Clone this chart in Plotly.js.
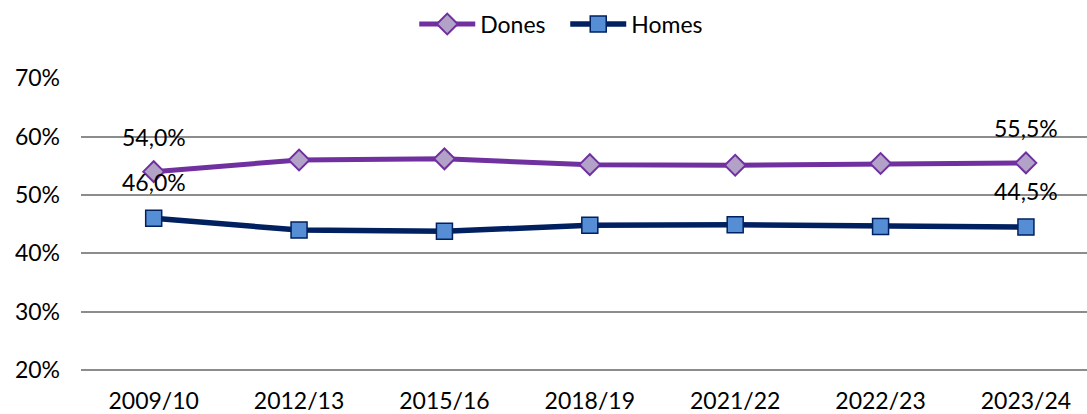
<!DOCTYPE html>
<html><head><meta charset="utf-8">
<script src="https://cdn.plot.ly/plotly-3.0.1.min.js"></script>
<style>body{margin:0}#c{width:1087px;height:414px}</style>
</head><body><div id="c"></div>
<script>
var categories = ["2009/10","2012/13","2015/16","2018/19","2021/22","2022/23","2023/24"];
var dones = [54.0, 56.0, 56.2, 55.2, 55.1, 55.4, 55.5];
var homes = [46.0, 44.0, 43.8, 44.8, 44.9, 44.6, 44.5];
var yTicks = [20,30,40,50,60,70];
var yTickText = ["20%","30%","40%","50%","60%","70%"];
var labelIdx = [0, 6];
function fmt(v){return v.toFixed(1).replace('.', ',') + '%';}

var FONT = "Lato, 'Open Sans', sans-serif";
var traces = [
 {x: categories, y: dones, name: "Dones", type: "scatter", mode: "lines+markers",
  line: {color: "#7030A0", width: 5},
  marker: {symbol: "diamond", size: 16, color: "#B3A2C7", line: {color: "#7030A0", width: 2}}},
 {x: categories, y: homes, name: "Homes", type: "scatter", mode: "lines+markers",
  line: {color: "#002060", width: 5.5},
  marker: {symbol: "square", size: 16, color: "#558ED5", line: {color: "#002060", width: 1.5}}}
];
var ann = [];
labelIdx.forEach(function(i){
  ann.push({x: categories[i], y: dones[i], text: fmt(dones[i]), showarrow: false, yshift: 35, font: {family: FONT, size: 23, color: "#000"}});
  ann.push({x: categories[i], y: homes[i], text: fmt(homes[i]), showarrow: false, yshift: 36, font: {family: FONT, size: 23, color: "#000"}});
});
var layout = {
  width: 1087, height: 414,
  margin: {l: 81, r: 0, t: 78, b: 41},
  paper_bgcolor: "#fff", plot_bgcolor: "#fff",
  font: {family: FONT, size: 23, color: "#000"},
  showlegend: true,
  legend: {orientation: "h", xref: "container", yref: "container", x: 0.52, xanchor: "center", y: 0.942, yanchor: "middle", font: {family: FONT, size: 23}, itemwidth: 56, entrywidth: 80, tracegroupgap: 0},
  xaxis: {type: "category", range: [-0.5, 6.42], showgrid: false, zeroline: false, showline: false, ticks: "", ticklabelstandoff: 12, tickfont: {family: FONT, size: 23}},
  yaxis: {range: [19.5, 70.05], tickvals: yTicks, ticktext: yTickText, showgrid: true, gridcolor: "#8c8c8c", gridwidth: 1.5, zeroline: false, showline: false, ticks: "", ticklabelstandoff: 20, tickfont: {family: FONT, size: 23}},
  annotations: ann
};
Plotly.newPlot("c", traces, layout, {displayModeBar: false});
</script></body></html>
